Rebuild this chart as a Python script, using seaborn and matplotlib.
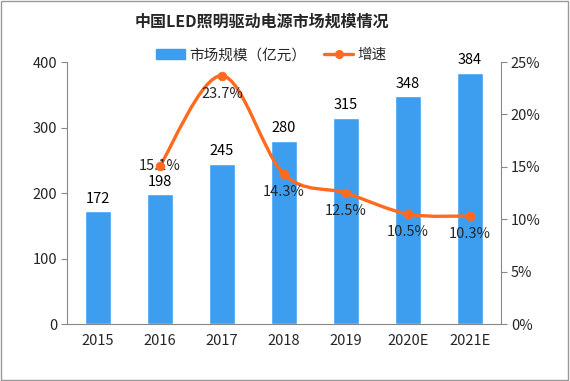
import numpy as np
import pandas as pd
import seaborn as sns
import matplotlib.pyplot as plt
from matplotlib.path import Path
from matplotlib.patches import PathPatch, Rectangle
from matplotlib.lines import Line2D

years = ["2015", "2016", "2017", "2018", "2019", "2020E", "2021E"]
market_size = [172, 198, 245, 280, 315, 348, 384]
growth = [np.nan, 15.1, 23.7, 14.3, 12.5, 10.5, 10.3]
growth_labels = ["", "15.1%", "23.7%", "14.3%", "12.5%", "10.5%", "10.3%"]

bar_color = "#3d9ef0"
line_color = "#ff6a1f"

sns.set_style("white")
plt.rcParams['font.family'] = ['Noto Sans CJK SC', 'DejaVu Sans']
plt.rcParams['axes.edgecolor'] = '#888888'

df = pd.DataFrame({"year": years, "size": market_size, "growth": growth})

fig = plt.figure(figsize=(5.7, 3.81), dpi=100)
ax = fig.add_axes([0.1175, 0.1496, 0.7615, 0.6874])

sns.barplot(data=df, x="year", y="size", color=bar_color, width=0.42,
            saturation=1, ax=ax)
ax.set_ylim(0, 400)
ax.set_yticks(range(0, 401, 100))
ax.set_xlim(-0.5, 6.5)
for i, v in enumerate(market_size):
    ax.annotate(str(v), (i, v), xytext=(0, 4), textcoords="offset points",
                ha="center", va="bottom", fontsize=10.5, color="black")

# category boundary ticks, labels at centers
ax.set_xticks(np.arange(-0.5, 7, 1))
ax.set_xticklabels([])
ax.set_xticks(range(len(years)), minor=True)
ax.set_xticklabels(years, minor=True, fontsize=10.5)
ax.tick_params(axis="x", which="major", length=4, color="#888888", direction="out")
ax.tick_params(axis="x", which="minor", length=0, pad=7)
ax.tick_params(axis="y", length=4, color="#888888", direction="out", labelsize=10.5, pad=3)
ax.set_xlabel("")
ax.set_ylabel("")
for s in ["top", "right"]:
    ax.spines[s].set_visible(False)

ax2 = ax.twinx()
ax2.set_ylim(0, 25)
ax2.set_yticks(range(0, 26, 5))
ax2.set_yticklabels([f"{t}%" for t in range(0, 26, 5)])
ax2.tick_params(axis="y", length=4, color="#888888", direction="out", labelsize=10.5, pad=3)
for s in ["top", "left", "bottom"]:
    ax2.spines[s].set_visible(False)
ax2.spines["right"].set_color("#888888")

# smooth growth curve (Catmull-Rom as cubic Bezier segments)
gx = np.array([i for i, g in enumerate(growth) if not np.isnan(g)], dtype=float)
gy = np.array([g for g in growth if not np.isnan(g)])
pts = np.column_stack([gx, gy])
verts = [tuple(pts[0])]
codes = [Path.MOVETO]
n = len(pts)
for k in range(n - 1):
    p0 = pts[k - 1] if k > 0 else pts[k]
    p1, p2 = pts[k], pts[k + 1]
    p3 = pts[k + 2] if k + 2 < n else pts[k + 1]
    c1 = p1 + (p2 - p0) / 6
    c2 = p2 - (p3 - p1) / 6
    verts += [tuple(c1), tuple(c2), tuple(p2)]
    codes += [Path.CURVE4] * 3
ax2.add_patch(PathPatch(Path(verts, codes), facecolor="none",
                        edgecolor=line_color, lw=2.4, zorder=3))
sns.scatterplot(x=gx, y=gy, color=line_color, s=40, edgecolor=line_color,
                zorder=4, ax=ax2, legend=False)

for i, (g, lab) in enumerate(zip(growth, growth_labels)):
    if np.isnan(g):
        continue
    if i == 1:
        ax2.annotate(lab, (i, g), xytext=(0, 0), textcoords="offset points",
                     ha="center", va="center", fontsize=10.5)
    else:
        ax2.annotate(lab, (i, g), xytext=(0, -8), textcoords="offset points",
                     ha="center", va="top", fontsize=10.5)

# title and legend
fig.text(0.46, 0.942, "中国LED照明驱动电源市场规模情况", ha="center", va="center",
         fontsize=11.5, fontweight="bold")
handles = [Rectangle((0, 0), 1, 1, color=bar_color),
           Line2D([0], [0], color=line_color, lw=2.4, marker="o", markersize=5.5)]
fig.legend(handles, ["市场规模（亿元）", "增速"], loc="center", ncol=2,
           bbox_to_anchor=(0.476, 0.855), frameon=False, fontsize=10.5,
           handlelength=2.0, columnspacing=1.2, handletextpad=0.3)

fig.patches.append(Rectangle((0.002, 0.003), 0.994, 0.994, transform=fig.transFigure,
                             fill=False, edgecolor="#999999", lw=1))

fig.savefig("out.png", dpi=100)
